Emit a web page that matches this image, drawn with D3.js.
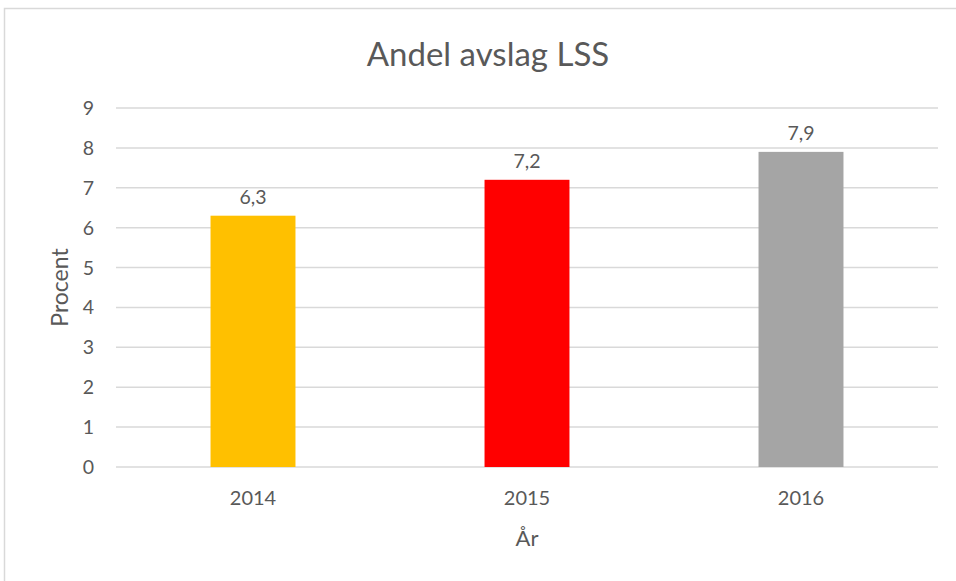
<!DOCTYPE html>
<head>
  <meta charset="utf-8">
  <script src="https://d3js.org/d3.v7.min.js"></script>
  <style>
    body { margin: 0; padding: 0; background: #fff; }
    text { font-family: Lato, "Open Sans", sans-serif; fill: #595959; }
  </style>
</head>
<body>
  <script>
    // values
    var years = ["2014", "2015", "2016"],
      shares = [6.3, 7.2, 7.9],
      barColors = ["#FFC000", "#FF0000", "#A5A5A5"],
      yTicks = [0, 1, 2, 3, 4, 5, 6, 7, 8, 9];

    var width = 956, height = 581;
    var margin = { top: 108, right: 18, bottom: 114, left: 116 };

    var svg = d3.select("body").append("svg")
      .attr("width", width)
      .attr("height", height);

    // outer chart frame
    svg.append("rect")
      .attr("x", 4.5).attr("y", 8.5)
      .attr("width", width + 10).attr("height", height + 10)
      .attr("fill", "#fff")
      .attr("stroke", "#d9d9d9")
      .attr("stroke-width", 1.5);

    var x = d3.scaleBand()
      .domain(years)
      .range([margin.left, width - margin.right])
      .paddingInner(0.69)
      .paddingOuter(0.345);

    var y = d3.scaleLinear()
      .domain([0, 9])
      .range([height - margin.bottom, margin.top]);

    // gridlines
    svg.append("g")
      .selectAll("line")
      .data(yTicks)
      .enter().append("line")
      .attr("x1", margin.left)
      .attr("x2", width - margin.right)
      .attr("y1", function (d) { return y(d); })
      .attr("y2", function (d) { return y(d); })
      .attr("stroke", "#d9d9d9")
      .attr("stroke-width", 1.5);

    // y tick labels
    svg.append("g")
      .selectAll("text")
      .data(yTicks)
      .enter().append("text")
      .attr("x", margin.left - 22)
      .attr("y", function (d) { return y(d); })
      .attr("dy", "0.36em")
      .attr("text-anchor", "end")
      .attr("font-size", 19.5)
      .text(function (d) { return d; });

    // bars
    svg.append("g")
      .selectAll("rect")
      .data(shares)
      .enter().append("rect")
      .attr("x", function (d, i) { return x(years[i]); })
      .attr("y", function (d) { return y(d); })
      .attr("width", x.bandwidth())
      .attr("height", function (d) { return y(0) - y(d); })
      .attr("fill", function (d, i) { return barColors[i]; });

    // value labels
    svg.append("g")
      .selectAll("text")
      .data(shares)
      .enter().append("text")
      .attr("x", function (d, i) { return x(years[i]) + x.bandwidth() / 2; })
      .attr("y", function (d) { return y(d) - 12; })
      .attr("text-anchor", "middle")
      .attr("font-size", 19.5)
      .text(function (d) { return String(d).replace(".", ","); });

    // x tick labels
    svg.append("g")
      .selectAll("text")
      .data(years)
      .enter().append("text")
      .attr("x", function (d) { return x(d) + x.bandwidth() / 2; })
      .attr("y", y(0) + 38)
      .attr("text-anchor", "middle")
      .attr("font-size", 20)
      .text(function (d) { return d; });

    // title
    svg.append("text")
      .attr("x", 488)
      .attr("y", 66)
      .attr("text-anchor", "middle")
      .attr("font-size", 33)
      .text("Andel avslag LSS");

    // axis titles
    svg.append("text")
      .attr("x", (margin.left + width - margin.right) / 2)
      .attr("y", 546)
      .attr("text-anchor", "middle")
      .attr("font-size", 22)
      .text("År");

    svg.append("text")
      .attr("transform", "translate(68," + (y(4.5)) + ") rotate(-90)")
      .attr("text-anchor", "middle")
      .attr("font-size", 23)
      .text("Procent");
  </script>
</body>
